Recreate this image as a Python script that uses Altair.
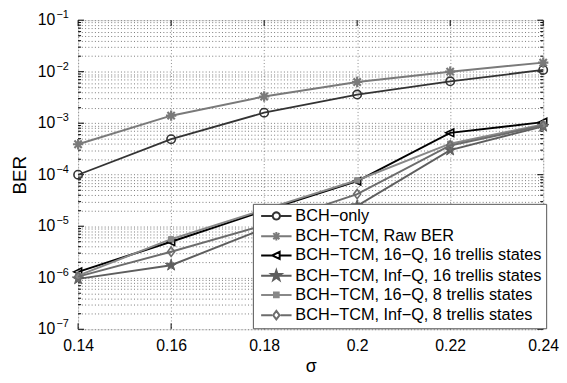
import math
import altair as alt
import pandas as pd

# ---------------- data ----------------
sigma = [0.14, 0.16, 0.18, 0.20, 0.22, 0.24]

series_names = [
    "BCH−only",
    "BCH−TCM, Raw BER",
    "BCH−TCM, 16−Q, 16 trellis states",
    "BCH−TCM, Inf−Q, 16 trellis states",
    "BCH−TCM, 16−Q, 8 trellis states",
    "BCH−TCM, Inf−Q, 8 trellis states",
]

ber_bch_only = [1.0e-4, 4.9e-4, 1.6e-3, 3.6e-3, 6.5e-3, 1.08e-2]
ber_raw = [3.9e-4, 1.4e-3, 3.3e-3, 6.3e-3, 1.0e-2, 1.5e-2]
ber_16q_16s = [1.3e-6, 5.0e-6, 2.0e-5, 7.5e-5, 6.5e-4, 1.05e-3]
ber_infq_16s = [0.95e-6, 1.75e-6, 9.0e-6, 2.5e-5, 3.0e-4, 8.7e-4]
ber_16q_8s = [1.1e-6, 5.6e-6, 2.1e-5, 7.8e-5, 4.0e-4, 9.5e-4]
ber_infq_8s = [1.05e-6, 3.2e-6, 1.05e-5, 4.2e-5, 3.7e-4, 9.0e-4]

x_ticks = [0.14, 0.16, 0.18, 0.20, 0.22, 0.24]
y_decades = [1e-1, 1e-2, 1e-3, 1e-4, 1e-5, 1e-6, 1e-7]
y_exponents = ["−1", "−2", "−3", "−4", "−5", "−6", "−7"]
y_minor_mult = [2, 3, 4, 5, 6, 7, 8, 9]

all_ber = [ber_bch_only, ber_raw, ber_16q_16s, ber_infq_16s, ber_16q_8s, ber_infq_8s]

# ---------------- styles ----------------
W, H = 471, 313
colors = ["#333333", "#7a7a7a", "#000000", "#5e5e5e", "#888888", "#6c6c6c"]
line_widths = [1.8, 2, 2, 2, 2, 2]
FONT = "Liberation Sans"


def poly(points):
    return "M" + "L".join(f"{x:.3f},{y:.3f}" for x, y in points) + "Z"


def circle_path(r, n=20):
    return poly([(r * math.cos(2 * math.pi * k / n), r * math.sin(2 * math.pi * k / n)) for k in range(n)])


def star_path(r):
    pts = []
    for k in range(10):
        ang = -math.pi / 2 + k * math.pi / 5
        rr = r if k % 2 == 0 else r * 0.382
        pts.append((rr * math.cos(ang), rr * math.sin(ang)))
    return poly(pts)


def asterisk_path(r):
    d = r * 0.707
    return (f"M{-r},0L{r},0M0,{-r}L0,{r}"
            f"M{-d},{-d}L{d},{d}M{-d},{d}L{d},{-d}")


def tri_left_path(r):
    return poly([(-r, 0), (r * 0.8, -r * 0.85), (r * 0.8, r * 0.85)])


def square_path(h):
    return poly([(-h, -h), (h, -h), (h, h), (-h, h)])


def diamond_path(r):
    return poly([(0, -r), (r * 0.75, 0), (0, r), (-r * 0.75, 0)])


# main-plot markers (unit = sqrt(size)/2)
marker_specs = [
    dict(shape="circle", size=72, filled=False, sw=1.6),
    dict(shape=asterisk_path(1), size=110, filled=False, sw=2.2),
    dict(shape=tri_left_path(1), size=80, filled=False, sw=1.6),
    dict(shape=star_path(1), size=150, filled=True, sw=1.0),
    dict(shape="square", size=28, filled=True, sw=1.0),
    dict(shape=diamond_path(1), size=90, filled=False, sw=1.6),
]

# legend symbols: unit = 7px (size 196), stub spans +-2.2 units
def stub(gap):
    if gap <= 0:
        return "M-2.2,0L2.2,0"
    return f"M-2.2,0L{-gap},0M{gap},0L2.2,0"


legend_shapes = [
    stub(0.52) + circle_path(0.52),
    stub(0) + asterisk_path(0.62),
    stub(0.6) + tri_left_path(0.6),
    stub(0) + star_path(0.75),
    stub(0) + square_path(0.34),
    stub(0.62) + diamond_path(0.62),
]
legend_fill = ["white", "#7a7a7a", "white", "#5e5e5e", "#888888", "white"]

# ---------------- scales / axes ----------------
y_grid_vals = [m * d for d in y_decades[1:] for m in y_minor_mult] + y_decades

x_scale = alt.Scale(domain=[0.14, 0.24], nice=False, zero=False)
y_scale = alt.Scale(type="log", domain=[1e-7, 1e-1], nice=False)

x_axis = alt.Axis(
    values=x_ticks, format=".2~f", labelFontSize=16, labelFont=FONT, labelColor="black",
    labelPadding=9, ticks=False, domain=False, labelFlush=False,
    grid=True, gridDash=[1, 2.3], gridColor="#8a8a8a", gridWidth=1,
    title="σ", titleFontSize=18, titleFont=FONT, titleFontWeight="normal", titleColor="black",
    titleX=W / 2, titleY=38, titleBaseline="middle", titleAlign="center",
)
y_axis = alt.Axis(
    values=y_grid_vals, labels=False, ticks=False, domain=False,
    grid=True, gridDash=[1, 2.3], gridColor="#7a7a7a", gridWidth=1,
    title="BER", titleFontSize=19, titleFont=FONT, titleFontWeight="normal", titleColor="black",
    titleX=-59, titleY=H / 2, titleAngle=270, titleBaseline="middle", titleAlign="center",
)

X = alt.X("sigma:Q", scale=x_scale, axis=x_axis)
Y = alt.Y("ber:Q", scale=y_scale, axis=y_axis)

layers = []

# inward ticks
minor_df = pd.DataFrame({"ber": [m * d for d in y_decades[1:] for m in y_minor_mult]})
major_df = pd.DataFrame({"ber": y_decades})
xt_df = pd.DataFrame({"sigma": x_ticks})
for df_t, ln in [(minor_df, 3), (major_df, 6)]:
    layers.append(alt.Chart(df_t).mark_rule(color="black", strokeWidth=1).encode(
        y=Y, x=alt.value(0), x2=alt.value(ln)))
    layers.append(alt.Chart(df_t).mark_rule(color="black", strokeWidth=1).encode(
        y=Y, x=alt.value(W), x2=alt.value(W - ln)))
layers.append(alt.Chart(xt_df).mark_rule(color="black", strokeWidth=1).encode(
    x=X, y=alt.value(H), y2=alt.value(H - 6)))
layers.append(alt.Chart(xt_df).mark_rule(color="black", strokeWidth=1).encode(
    x=X, y=alt.value(0), y2=alt.value(6)))

# series
for name, vals, col, lw, ms in zip(series_names, all_ber, colors, line_widths, marker_specs):
    d = pd.DataFrame({"sigma": sigma, "ber": vals})
    layers.append(alt.Chart(d).mark_line(color=col, strokeWidth=lw).encode(x=X, y=Y))
    if ms["filled"]:
        pt = alt.Chart(d).mark_point(shape=ms["shape"], size=ms["size"], filled=True,
                                     fill=col, stroke=col, strokeWidth=ms["sw"], opacity=1)
    else:
        pt = alt.Chart(d).mark_point(shape=ms["shape"], size=ms["size"], filled=False,
                                     stroke=col, strokeWidth=ms["sw"], opacity=1)
    layers.append(pt.encode(x=X, y=Y))

# y tick labels as 10 with superscript exponent
lab_df = pd.DataFrame({"ber": y_decades, "base": ["10"] * len(y_decades), "exp": y_exponents})
layers.append(alt.Chart(lab_df).mark_text(align="right", baseline="middle", fontSize=16, font=FONT,
                                          color="black").encode(y=Y, x=alt.value(-23), text="base:N"))
layers.append(alt.Chart(lab_df).mark_text(align="left", baseline="middle", fontSize=11, font=FONT,
                                          color="black", dy=-5).encode(y=Y, x=alt.value(-22), text="exp:N"))

# legend layer (no marks drawn; only supplies the legend)
leg = alt.Legend(orient="none", legendX=177, legendY=186, title=None, fillColor="white",
                 strokeColor="#555555", padding=4, rowPadding=2.5, labelFontSize=16.5, labelFont=FONT,
                 labelColor="black", symbolSize=196, symbolStrokeWidth=2, symbolOffset=11.5,
                 labelOffset=11, labelLimit=0)
leg_df = pd.DataFrame({"series": series_names})
layers.append(alt.Chart(leg_df).transform_filter("false").mark_point(filled=False, size=196, opacity=1).encode(
    shape=alt.Shape("series:N", scale=alt.Scale(domain=series_names, range=legend_shapes), legend=leg),
    stroke=alt.Stroke("series:N", scale=alt.Scale(domain=series_names, range=colors), legend=leg),
    fill=alt.Fill("series:N", scale=alt.Scale(domain=series_names, range=legend_fill), legend=leg),
))

chart = alt.layer(*layers).properties(
    width=W, height=H,
    autosize=alt.AutoSizeParams(type="none"),
    padding={"left": 71, "top": 10, "right": 16, "bottom": 44},
).configure_view(stroke="black", strokeWidth=1).configure(background="white")

chart.save("out.html", embed_options={"renderer": "svg", "actions": False})
